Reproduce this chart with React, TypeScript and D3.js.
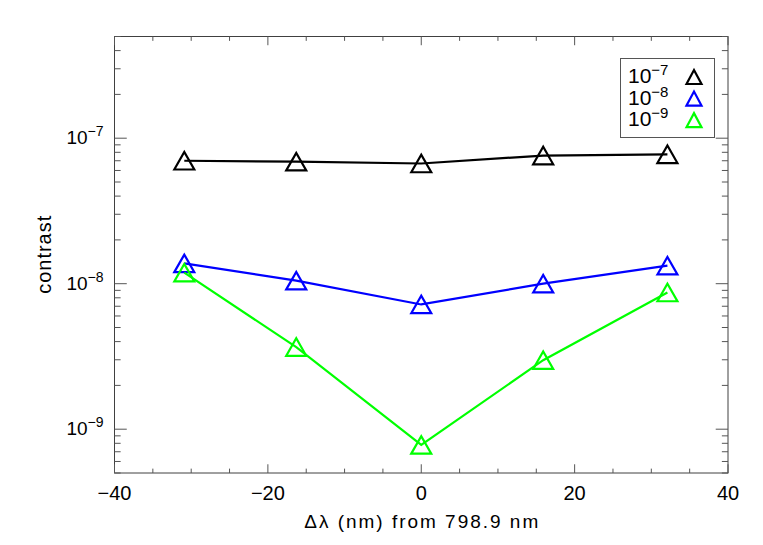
import { useEffect, useRef } from "react";
import * as d3 from "d3";

// wavelength offsets (nm) from 798.9 nm
const offsets = [-30.9, -16.3, 0, 15.9, 32.1];
// contrast curves, one per target level
const contrast7 = [7.0e-8, 6.9e-8, 6.7e-8, 7.6e-8, 7.75e-8];
const contrast8 = [1.38e-8, 1.05e-8, 7.2e-9, 1.0e-8, 1.33e-8];
const contrast9 = [1.19e-8, 3.67e-9, 7.8e-10, 2.98e-9, 8.7e-9];
const seriesExp = ["−7", "−8", "−9"];
const seriesColors = ["#000000", "#0000ff", "#00ff00"];

const xTicks = [-40, -20, 0, 20, 40];
const yDecades = [-9, -8, -7];

const FONT = "'Liberation Sans', Arial, sans-serif";

function triPath(w: number, h: number) {
  return `M${-w / 2},${h / 2}L0,${-h / 2}L${w / 2},${h / 2}Z`;
}

function renderChart(el: SVGSVGElement) {
  const w = 763,
    h = 545,
    margin = { top: 36.5, right: 35, bottom: 72, left: 114.5 };
  const svg = d3.select(el);
  svg.selectAll("*").remove();
  svg.attr("width", w).attr("height", h).attr("viewBox", `0 0 ${w} ${h}`);

  const x0 = margin.left,
    x1 = w - margin.right,
    y0 = margin.top,
    y1 = h - margin.bottom;
  const x = d3.scaleLinear().domain([-40, 40]).range([x0, x1]);
  const y = d3.scaleLog().domain([5e-10, 5e-7]).range([y1, y0]);

  const frame = "#404040";
  const xLen = 0.02 * (y1 - y0),
    yLen = 0.02 * (x1 - x0);

  // frame
  svg
    .append("rect")
    .attr("x", x0)
    .attr("y", y0)
    .attr("width", x1 - x0)
    .attr("height", y1 - y0)
    .attr("fill", "none")
    .attr("stroke", frame)
    .attr("stroke-width", 1);

  // x ticks, bottom and top
  const xMinor = d3.range(-40, 40.1, 5);
  const g = svg.append("g").attr("stroke", "#555").attr("stroke-width", 1);
  xMinor.forEach((v) => {
    const len = v % 20 === 0 ? xLen : xLen / 2;
    g.append("line").attr("x1", x(v)).attr("x2", x(v)).attr("y1", y1).attr("y2", y1 - len);
    g.append("line").attr("x1", x(v)).attr("x2", x(v)).attr("y1", y0).attr("y2", y0 + len);
  });

  // y ticks, left and right
  const yAll: number[] = [];
  for (let e = -10; e <= -7; e++) {
    for (let m = 1; m <= 9; m++) {
      const v = m * Math.pow(10, e);
      if (v >= 5e-10 * 0.999 && v <= 5e-7 * 1.001) yAll.push(v);
    }
  }
  yAll.forEach((v) => {
    const major = Math.abs(Math.log10(v) - Math.round(Math.log10(v))) < 1e-6;
    const len = major ? yLen : yLen / 2;
    g.append("line").attr("x1", x0).attr("x2", x0 + len).attr("y1", y(v)).attr("y2", y(v));
    g.append("line").attr("x1", x1).attr("x2", x1 - len).attr("y1", y(v)).attr("y2", y(v));
  });

  // x tick labels
  svg
    .selectAll(".xlab")
    .data(xTicks)
    .join("text")
    .attr("x", (d) => x(d))
    .attr("y", y1 + 27)
    .attr("text-anchor", "middle")
    .attr("font-family", FONT)
    .attr("font-size", 20)
    .text((d) => (d < 0 ? `−${-d}` : `${d}`));

  // y tick labels
  yDecades.forEach((e) => {
    const t = svg
      .append("text")
      .attr("x", x0 - 11)
      .attr("y", y(Math.pow(10, e)) + 6)
      .attr("text-anchor", "end")
      .attr("font-family", FONT)
      .attr("font-size", 19);
    t.append("tspan").text("10");
    t.append("tspan").attr("dy", -8).attr("font-size", 14).text(`−${-e}`);
  });

  // axis titles
  svg
    .append("text")
    .attr("x", x(0))
    .attr("y", y1 + 55)
    .attr("text-anchor", "middle")
    .attr("font-family", FONT)
    .attr("font-size", 19)
    .attr("textLength", 234)
    .attr("lengthAdjust", "spacing")
    .text("Δλ (nm) from 798.9 nm");
  svg
    .append("text")
    .attr("transform", `translate(51,${(y0 + y1) / 2}) rotate(-90)`)
    .attr("text-anchor", "middle")
    .attr("font-family", FONT)
    .attr("font-size", 20)
    .attr("textLength", 78)
    .attr("lengthAdjust", "spacing")
    .text("contrast");

  // series
  const series = [contrast7, contrast8, contrast9];
  const line = d3
    .line<number>()
    .x((_, i) => x(offsets[i]))
    .y((d) => y(d));
  series.forEach((vals, si) => {
    svg
      .append("path")
      .datum(vals)
      .attr("d", line)
      .attr("fill", "none")
      .attr("stroke", seriesColors[si])
      .attr("stroke-width", 2.2);
    svg
      .selectAll(`.tri${si}`)
      .data(vals)
      .join("path")
      .attr("transform", (d, i) => `translate(${x(offsets[i])},${y(d)})`)
      .attr("d", triPath(20, 17.5))
      .attr("fill", "none")
      .attr("stroke", seriesColors[si])
      .attr("stroke-width", 2.2);
  });

  // legend
  const lg = svg.append("g");
  lg.append("rect")
    .attr("x", 620.5)
    .attr("y", 58.5)
    .attr("width", 94)
    .attr("height", 79)
    .attr("fill", "#fff")
    .attr("stroke", "#555")
    .attr("stroke-width", 1);
  seriesExp.forEach((lab, i) => {
    const cy = 77 + i * 21.6;
    const t = lg
      .append("text")
      .attr("x", 628)
      .attr("y", cy + 6)
      .attr("font-family", FONT)
      .attr("font-size", 21);
    t.append("tspan").text("10");
    t.append("tspan").attr("dy", -8).attr("font-size", 15).text(lab);
    lg.append("path")
      .attr("transform", `translate(694,${cy})`)
      .attr("d", triPath(15, 14))
      .attr("fill", "none")
      .attr("stroke", seriesColors[i])
      .attr("stroke-width", 2.2);
  });
}

export default function App() {
  const ref = useRef<SVGSVGElement>(null);
  useEffect(() => {
    if (ref.current) renderChart(ref.current);
  }, []);
  return <svg ref={ref} style={{ position: "absolute", left: 0, top: 0, background: "#fff" }} />;
}
